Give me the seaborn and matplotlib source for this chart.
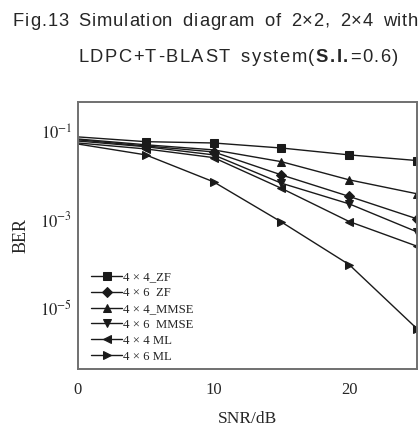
import numpy as np
import pandas as pd
import matplotlib
matplotlib.use("Agg")
import matplotlib.pyplot as plt
import seaborn as sns

snr_db = [0, 5, 10, 15, 20, 25]
ber_4x4_zf = [0.077, 0.060, 0.056, 0.043, 0.030, 0.0223]
ber_4x6_zf = [0.066, 0.048, 0.035, 0.0105, 0.0034, 0.00105]
ber_4x4_mmse = [0.069, 0.051, 0.039, 0.021, 0.0081, 0.0039]
ber_4x6_mmse = [0.062, 0.046, 0.030, 0.0068, 0.0023, 0.00053]
ber_4x4_ml = [0.056, 0.041, 0.026, 0.0052, 0.00091, 0.00025]
ber_4x6_ml = [0.053, 0.030, 0.0073, 0.00089, 0.000095, 0.0000033]

series_names = ["4 × 4_ZF", "4 × 6  ZF", "4 × 4_MMSE", "4 × 6  MMSE", "4 × 4 ML", "4 × 6 ML"]
series_values = [ber_4x4_zf, ber_4x6_zf, ber_4x4_mmse, ber_4x6_mmse, ber_4x4_ml, ber_4x6_ml]
series_markers = ["s", "D", "^", "v", "<", ">"]

x_ticks = [0, 10, 20]
y_ticks = [1e-1, 1e-3, 1e-5]
y_tick_labels = [r"$10^{-1}$", r"$10^{-3}$", r"$10^{-5}$"]

caption_line1 = [("Fig.13 Simulation diagram of 2×2, 2×4 with", "normal")]
caption_line2 = [("LDPC+T-BLAST system(", "normal"), ("S.I.", "bold"), ("=0.6)", "normal")]

df = pd.DataFrame({
    "SNR": np.tile(snr_db, len(series_names)),
    "BER": np.concatenate(series_values),
    "system": np.repeat(series_names, len(snr_db)),
})

sns.set_style("white")
plt.rcParams["font.family"] = ["Liberation Serif", "DejaVu Serif"]
plt.rcParams["mathtext.fontset"] = "stix"

W, H = 420, 428
fig = plt.figure(figsize=(W / 100, H / 100), dpi=100)
ax = fig.add_axes([78 / W, 1 - 369 / H, (417 - 78) / W, (369 - 102) / H])

sns.lineplot(
    data=df, x="SNR", y="BER", hue="system", style="system",
    hue_order=series_names, style_order=series_names,
    palette=["#1a1a1a"] * len(series_names),
    markers=dict(zip(series_names, series_markers)),
    dashes=False, markersize=5.5, linewidth=1.0,
    markeredgecolor="#1a1a1a", markevery=slice(1, None), ax=ax,
)

ax.set_yscale("log")
ax.set_xlim(0, 25)
ax.set_ylim(4e-7, 0.48)
ax.set_xticks(x_ticks)
ax.set_xticklabels([str(t) for t in x_ticks])
ax.set_yticks(y_ticks)
ax.set_yticklabels(y_tick_labels)
ax.yaxis.set_minor_locator(matplotlib.ticker.NullLocator())
ax.tick_params(direction="in", length=4, width=1, color="#555555", labelsize=12)
ax.tick_params(axis="x", pad=9)
ax.tick_params(axis="y", pad=4)
for s in ax.spines.values():
    s.set_color("#707070")
    s.set_linewidth(1.4)

ax.set_xlabel("SNR/dB", fontsize=12.5, labelpad=10)
ax.set_ylabel("BER", fontsize=13, labelpad=8)

leg = ax.legend(loc="lower left", frameon=False, fontsize=9.2,
                handlelength=2.4, labelspacing=0.3, handletextpad=0.1,
                borderaxespad=0.1, bbox_to_anchor=(0.02, 0.0))


def tracked_text(segments, x0, baseline, x_end, size):
    """Lay out a caption line character by character with even letter spacing."""
    renderer = fig.canvas.get_renderer()
    chars = [(c, w) for text, w in segments for c in text]
    widths = []
    space_w = 0.45 * size * 100 / 72
    for c, w in chars:
        if c == " ":
            widths.append(space_w)
            continue
        t = fig.text(0, 0, c, fontsize=size, family="Liberation Sans", weight=w)
        bb = t.get_window_extent(renderer)
        widths.append(bb.width)
        t.remove()
    track = (x_end - x0 - sum(widths)) / (len(chars) - 1)
    x = x0
    for (c, w), cw in zip(chars, widths):
        if c != " ":
            fig.text(x / W, 1 - baseline / H, c, fontsize=size,
                     family="Liberation Sans", weight=w, ha="left", va="baseline")
        x += cw + track


tracked_text(caption_line1, 13, 26, 418, 13.2)
tracked_text(caption_line2, 78, 61.5, 398, 13.2)

fig.savefig("out.png", dpi=100)
